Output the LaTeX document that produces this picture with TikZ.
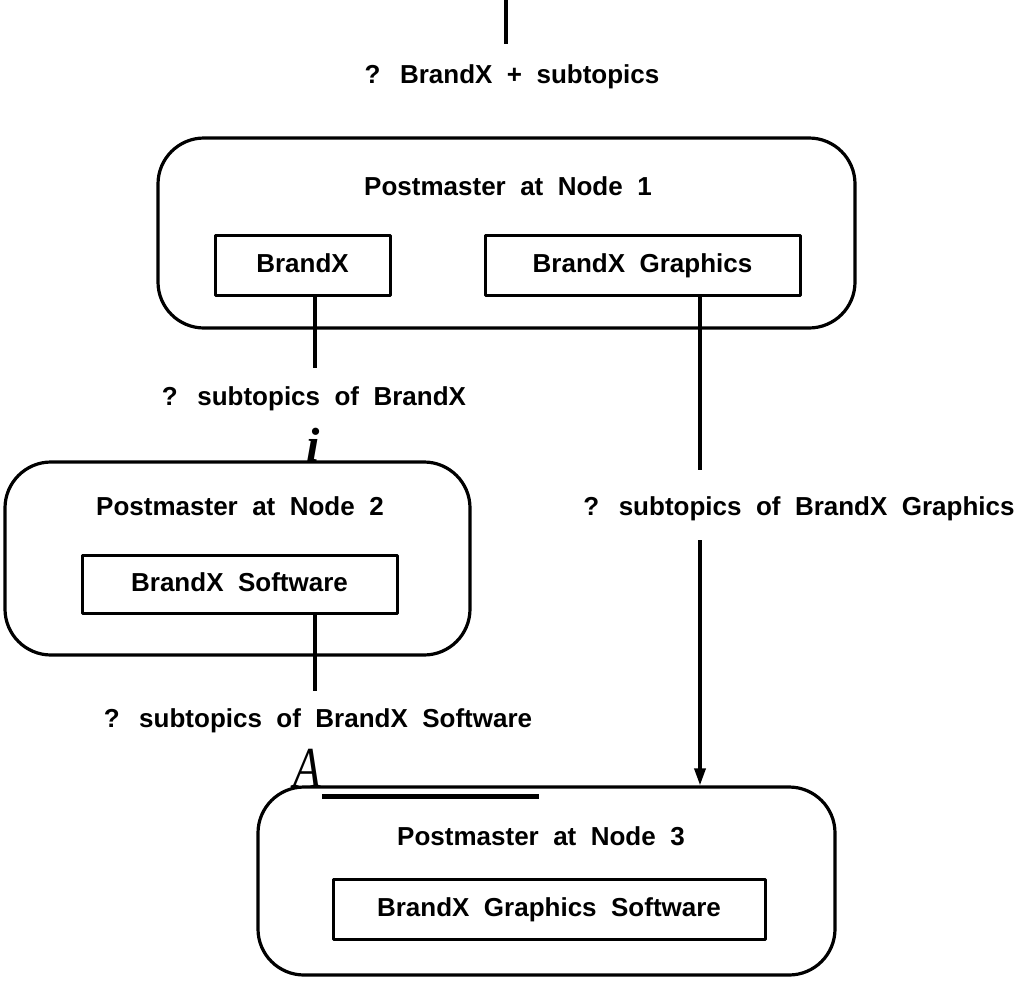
\documentclass[tikz,border=0pt]{standalone}
\usepackage{fontspec}
\newfontfamily\hv{Liberation Sans}
\newfontfamily\tms{Liberation Serif}
\usetikzlibrary{arrows.meta}
\begin{document}
\begin{tikzpicture}[x=1pt,y=-1pt,
  line join=round,
  outer/.style={draw,line width=3.2pt,rounded corners=46pt,inner sep=0pt},
  topicbox/.style={draw,line width=3pt,inner sep=0pt,text height=19pt,text depth=5pt,font=\hv\bfseries\fontsize{26}{30}\selectfont},
  lbl/.style={inner sep=0pt,text height=19pt,text depth=5pt,font=\hv\bfseries\fontsize{26}{30}\selectfont},
  wire/.style={line width=3.4pt},
  glyph/.style={inner sep=0pt,anchor=base}]
\useasboundingbox (0,0) rectangle (1014,980);

% incoming request from above
\coordinate (top) at (506,0);
\coordinate (topend) at (506,44);
\draw[line width=4.6pt] (top) -- (topend);
\node[lbl] (req0) at (512,76) {?\hspace{0.75em}BrandX\ \ +\ \ subtopics};

% postmaster at node 1
\node[outer,minimum width=697pt,minimum height=190pt] (n1) at (506.5,233) {};
\node[lbl] (t1) at (508,188) {Postmaster\ \ at\ \ Node\ \ 1};
\node[topicbox,minimum width=175pt,minimum height=60pt] (bx) at (302.5,265) {BrandX};
\node[topicbox,minimum width=315pt,minimum height=60pt] (gx) at (642.5,265) {BrandX\ \ Graphics};

% request to node 2
\coordinate (q1) at (315,368);
\draw[wire] (bx.south -| q1) -- (q1);
\node[lbl] (req1) at (314,398) {?\hspace{0.75em}subtopics\ \ of\ \ BrandX};
\node[glyph,font=\tms\bfseries\itshape\fontsize{48}{48}\selectfont] (iglyph) at (313,461) {i};

% postmaster at node 2
\node[outer,minimum width=465pt,minimum height=193pt] (n2) at (237.5,558.5) {};
\node[lbl] (t2) at (240,508) {Postmaster\ \ at\ \ Node\ \ 2};
\node[topicbox,minimum width=315pt,minimum height=58pt] (sw) at (239.5,584) {BrandX\ \ Software};

% request to node 3 from node 2
\coordinate (q2) at (315,691);
\draw[wire] (sw.south -| q2) -- (q2);
\node[lbl] (req2) at (318,720) {?\hspace{0.75em}subtopics\ \ of\ \ BrandX\ \ Software};
\node[glyph,font=\tms\itshape\fontsize{58}{58}\selectfont] (aglyph) at (307,787) {\scalebox{0.78}[1]{A}};

% request to node 3 from node 1
\coordinate (g1) at (700,470);
\coordinate (g2) at (700,540);
\draw[wire] (gx.south -| g1) -- (g1);
\node[lbl] (req3) at (799,508) {?\hspace{0.75em}subtopics\ \ of\ \ BrandX\ \ Graphics};

% postmaster at node 3
\node[outer,minimum width=577pt,minimum height=188pt] (n3) at (546.5,881) {};
\node[lbl] (t3) at (541,838) {Postmaster\ \ at\ \ Node\ \ 3};
\node[topicbox,minimum width=432pt,minimum height=60pt] (gs) at (549,909) {BrandX\ \ Graphics\ \ Software};

\draw[wire,-{Triangle[length=17pt,width=11pt]}] (g2) -- (n3.north -| g2);

% heavy bar under the A
\coordinate (b1) at (322,796);
\coordinate (b2) at (539,796);
\draw[line width=5pt] (b1) -- (b2);
\end{tikzpicture}
\end{document}
